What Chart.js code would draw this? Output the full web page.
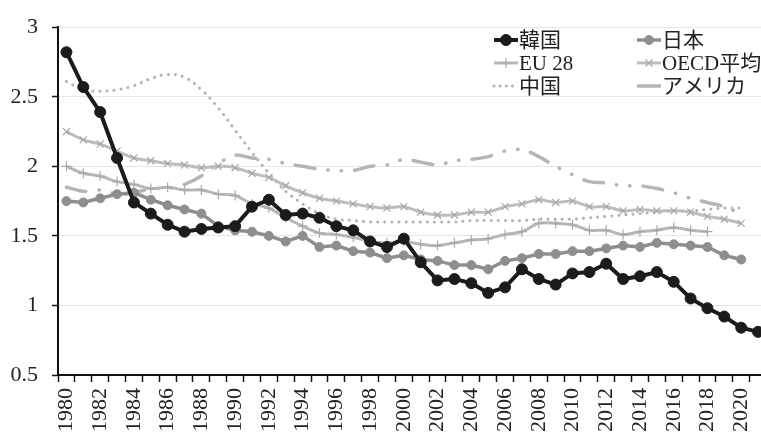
<!DOCTYPE html>
<html>
<head>
<meta charset="utf-8">
<script src="https://cdn.jsdelivr.net/npm/chart.js@4"></script>
<style>
html, body { margin: 0; padding: 0; background: #fff; overflow: hidden; }
#wrap { position: relative; width: 773px; height: 432px; }
</style>
</head>
<body>
<div id="wrap"><canvas id="fertilityChart"></canvas></div>
<script>
const years = ['1980', '1981', '1982', '1983', '1984', '1985', '1986', '1987', '1988', '1989',
    '1990', '1991', '1992', '1993', '1994', '1995', '1996', '1997', '1998', '1999',
    '2000', '2001', '2002', '2003', '2004', '2005', '2006', '2007', '2008', '2009',
    '2010', '2011', '2012', '2013', '2014', '2015', '2016', '2017', '2018', '2019',
    '2020', '2021'];

const korea = [2.82, 2.57, 2.39, 2.06, 1.74, 1.66, 1.58, 1.53, 1.55, 1.56,
    1.57, 1.71, 1.76, 1.65, 1.66, 1.63, 1.57, 1.54, 1.46, 1.42,
    1.48, 1.31, 1.18, 1.19, 1.16, 1.09, 1.13, 1.26, 1.19, 1.15,
    1.23, 1.24, 1.30, 1.19, 1.21, 1.24, 1.17, 1.05, 0.98, 0.92,
    0.84, 0.81];

const japan = [1.75, 1.74, 1.77, 1.80, 1.81, 1.76, 1.72, 1.69, 1.66, 1.57,
    1.54, 1.53, 1.50, 1.46, 1.50, 1.42, 1.43, 1.39, 1.38, 1.34,
    1.36, 1.33, 1.32, 1.29, 1.29, 1.26, 1.32, 1.34, 1.37, 1.37,
    1.39, 1.39, 1.41, 1.43, 1.42, 1.45, 1.44, 1.43, 1.42, 1.36,
    1.33, null];

const eu28 = [2.00, 1.95, 1.93, 1.89, 1.87, 1.84, 1.85, 1.83, 1.83, 1.80,
    1.79, 1.73, 1.70, 1.63, 1.57, 1.52, 1.51, 1.49, 1.46, 1.45,
    1.46, 1.44, 1.43, 1.45, 1.47, 1.48, 1.51, 1.53, 1.59, 1.59,
    1.58, 1.54, 1.54, 1.51, 1.53, 1.54, 1.56, 1.54, 1.53, null,
    null, null];

const oecd = [2.25, 2.19, 2.16, 2.11, 2.06, 2.04, 2.02, 2.01, 1.99, 2.00,
    1.99, 1.95, 1.92, 1.86, 1.81, 1.77, 1.75, 1.73, 1.71, 1.70,
    1.71, 1.67, 1.65, 1.65, 1.67, 1.67, 1.71, 1.73, 1.76, 1.74,
    1.75, 1.71, 1.71, 1.68, 1.69, 1.68, 1.68, 1.67, 1.64, 1.62,
    1.59, null];

const china = [2.61, 2.55, 2.54, 2.55, 2.58, 2.63, 2.66, 2.64, 2.55, 2.42,
    2.26, 2.10, 1.95, 1.82, 1.73, 1.66, 1.62, 1.61, 1.60, 1.60,
    1.60, 1.60, 1.60, 1.60, 1.61, 1.61, 1.61, 1.61, 1.62, 1.62,
    1.62, 1.63, 1.64, 1.65, 1.66, 1.67, 1.68, 1.68, 1.69, 1.70,
    1.70, null];

const usa = [1.85, 1.82, 1.83, 1.80, 1.81, 1.84, 1.84, 1.87, 1.93, 2.02,
    2.08, 2.06, 2.05, 2.02, 2.00, 1.98, 1.97, 1.97, 2.00, 2.01,
    2.05, 2.03, 2.01, 2.04, 2.05, 2.07, 2.11, 2.12, 2.07, 2.00,
    1.94, 1.89, 1.88, 1.86, 1.86, 1.84, 1.81, 1.77, 1.74, 1.71,
    1.66, null];

const yTicks = [0.5, 1, 1.5, 2, 2.5, 3];

const serifFont = '"Liberation Serif", "DejaVu Serif", "Noto Sans CJK JP", serif';

// legend drawn as a 2 x 3 grid inside the plot, like the original
const gridLegend = {
    id: 'gridLegend',
    afterDraw(chart) {
        const ctx = chart.ctx;
        const cols = [494, 637];
        const rows = [40, 63, 86];
        chart.data.datasets.forEach((ds, i) => {
            const x = cols[i % 2];
            const y = rows[Math.floor(i / 2)];
            ctx.save();
            ctx.strokeStyle = ds.borderColor;
            ctx.lineWidth = ds.borderWidth;
            ctx.lineCap = ds.legendDash ? 'round' : 'butt';
            ctx.setLineDash(ds.legendDash || []);
            ctx.beginPath();
            ctx.moveTo(x, y);
            ctx.lineTo(x + 24, y);
            ctx.stroke();
            ctx.setLineDash([]);
            if (ds.pointRadius > 0) {
                ctx.fillStyle = ds.pointBackgroundColor;
                ctx.strokeStyle = ds.pointBorderColor;
                ctx.lineWidth = ds.pointBorderWidth;
                Chart.helpers.drawPoint(ctx, {
                    pointStyle: ds.pointStyle,
                    radius: ds.pointRadius,
                    borderWidth: ds.pointBorderWidth,
                    rotation: 0
                }, x + 12, y);
            }
            ctx.fillStyle = '#222';
            ctx.font = '21px ' + serifFont;
            ctx.textBaseline = 'middle';
            ctx.textAlign = 'left';
            ctx.fillText(ds.label, x + 25, y + 1);
            ctx.restore();
        });
    }
};

const fertilityData = {
    labels: years,
    datasets: [
        {
            label: '韓国',
            data: korea,
            borderColor: '#1b1b1b',
            backgroundColor: '#1b1b1b',
            pointBackgroundColor: '#1b1b1b',
            pointBorderColor: '#1b1b1b',
            borderWidth: 4,
            pointStyle: 'circle',
            pointRadius: 5.5,
            pointBorderWidth: 1,
            tension: 0
        },
        {
            label: '日本',
            data: japan,
            borderColor: '#8e8e8e',
            backgroundColor: '#8e8e8e',
            pointBackgroundColor: '#8e8e8e',
            pointBorderColor: '#8e8e8e',
            borderWidth: 3.5,
            pointStyle: 'circle',
            pointRadius: 4.5,
            pointBorderWidth: 1,
            tension: 0
        },
        {
            label: 'EU 28',
            data: eu28,
            borderColor: '#b7b7b7',
            backgroundColor: '#b7b7b7',
            pointBackgroundColor: '#b7b7b7',
            pointBorderColor: '#a9a9a9',
            borderWidth: 3,
            pointStyle: 'cross',
            pointRadius: 5,
            pointBorderWidth: 1.2,
            tension: 0.3
        },
        {
            label: 'OECD平均',
            data: oecd,
            borderColor: '#bdbdbd',
            backgroundColor: '#bdbdbd',
            pointBackgroundColor: '#bdbdbd',
            pointBorderColor: '#a8a8a8',
            borderWidth: 3,
            pointStyle: 'crossRot',
            pointRadius: 5,
            pointBorderWidth: 1.2,
            tension: 0.3
        },
        {
            label: '中国',
            data: china,
            borderColor: '#b3b3b3',
            backgroundColor: '#b3b3b3',
            borderWidth: 3,
            borderDash: [0.1, 7],
            borderCapStyle: 'round',
            legendDash: [0.1, 6],
            pointRadius: 0,
            tension: 0.4
        },
        {
            label: 'アメリカ',
            data: usa,
            borderColor: '#b5b5b5',
            backgroundColor: '#b5b5b5',
            borderWidth: 3.5,
            borderDash: [20, 13, 0.5, 13, 0.5, 13],
            borderCapStyle: 'round',
            pointRadius: 0,
            tension: 0.3
        }
    ]
};

const fertilityOptions = {
    responsive: true,
    maintainAspectRatio: false,
    animation: false,
    layout: {
        padding: { top: 25, left: 0, right: 0, bottom: 0 }
    },
    plugins: {
        legend: { display: false },
        tooltip: { enabled: false }
    },
    scales: {
        x: {
            type: 'category',
            offset: true,
            afterFit: (scale) => {
                scale.height = 57;
                scale.paddingLeft = 0;
                scale.paddingRight = 0;
            },
            grid: {
                offset: true,
                drawOnChartArea: false,
                drawTicks: true,
                tickLength: 7,
                tickColor: '#111',
                tickWidth: 1.5
            },
            border: { color: '#111', width: 2 },
            ticks: {
                autoSkip: false,
                minRotation: 90,
                maxRotation: 90,
                padding: 6,
                color: '#222',
                font: { family: serifFont, size: 22 },
                callback: (value, index) => index % 2 === 0 ? years[index] : ''
            }
        },
        y: {
            min: yTicks[0],
            max: yTicks[yTicks.length - 1],
            afterFit: (scale) => { scale.width = 58; },
            afterBuildTicks: (scale) => { scale.ticks = yTicks.map(v => ({ value: v })); },
            grid: {
                color: '#e6e6e6',
                lineWidth: 1,
                tickLength: 6,
                tickColor: '#111',
                tickWidth: 1.5
            },
            border: { color: '#111', width: 2 },
            ticks: {
                padding: 14,
                color: '#222',
                font: { family: serifFont, size: 22 },
                callback: (value) => String(value)
            }
        }
    }
};

const fertilityCtx = document.getElementById('fertilityChart').getContext('2d');

new Chart(fertilityCtx, {
    type: 'line',
    data: fertilityData,
    options: fertilityOptions,
    plugins: [gridLegend]
});
</script>
</body>
</html>
